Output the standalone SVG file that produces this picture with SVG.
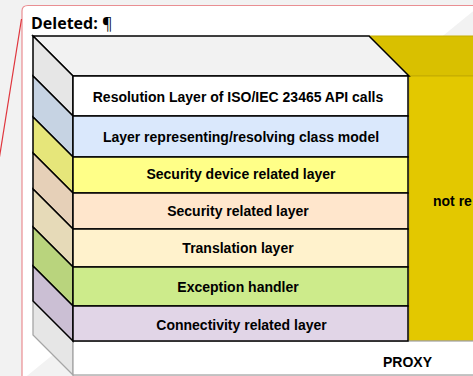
<svg xmlns="http://www.w3.org/2000/svg" width="473" height="376" viewBox="0 0 473 376">
<style>
.t{font-family:"Liberation Sans",Arial,sans-serif;font-weight:bold;font-size:14px;fill:#000;text-anchor:middle}
.k{stroke:#000;stroke-width:1.5;stroke-linejoin:miter}
.g{stroke:#a6a6a6;stroke-width:1.3}
</style>
<rect x="0" y="0" width="473" height="376" fill="#f2f2f2"/>
<g id="comment">
<path d="M22,380 V11 Q22,5.5 28,5.5 H480" fill="#ffffff" stroke="#e98e92" stroke-width="1.2"/>
<text x="31" y="29" font-family="'Open Sans','Liberation Sans',sans-serif" font-weight="bold" font-size="16" fill="#000">Deleted: <tspan font-weight="normal">¶</tspan></text>
</g>
<g id="connectors">
<line x1="21.5" y1="19" x2="-1" y2="160" stroke="#e0343c" stroke-width="1.2"/>
</g>
<g id="yellow-block">
<polygon points="369,36 480,36 480,76 409,76" fill="#d9c000" stroke="#c4ab00" stroke-width="1"/>
<rect x="409" y="76" width="80" height="265" fill="#e3c800" stroke="#c4ab00" stroke-width="1"/>
<text class="t" x="433" y="206" style="text-anchor:start">not re</text>
</g>
<g id="proxy">
<polygon points="33,301 73,341 73,375 33,335" fill="#e6e6e6" class="g"/>
<rect x="73" y="341" width="670" height="34" fill="#ffffff" class="g"/>
<text class="t" x="407.5" y="366.5">PROXY</text>
</g>
<g id="top-face">
<polygon points="33,36 369,36 409,76 73,76" fill="#f2f2f2" class="k"/>
</g>
<g id="resolution-layer">
<polygon points="33,36 73,76 73,116 33,76" fill="#e6e6e6" class="k"/>
<rect x="73" y="76" width="335" height="40" fill="#ffffff" class="k"/>
<text class="t" x="238" y="101.5">Resolution Layer of ISO/IEC 23465 API calls</text>
</g>
<g id="class-model-layer">
<polygon points="33,76 73,116 73,157 33,117" fill="#c6d3e3" class="k"/>
<rect x="73" y="116" width="335" height="41" fill="#dae8fc" class="k"/>
<text class="t" x="241" y="142.3">Layer representing/resolving class model</text>
</g>
<g id="security-device-layer">
<polygon points="33,117 73,157 73,193 33,153" fill="#e6e67a" class="k"/>
<rect x="73" y="157" width="335" height="36" fill="#ffff88" class="k"/>
<text class="t" x="241" y="178.5">Security device related layer</text>
</g>
<g id="security-layer">
<polygon points="33,153 73,193 73,229 33,189" fill="#e6d0b8" class="k"/>
<rect x="73" y="193" width="335" height="36" fill="#ffe6cc" class="k"/>
<text class="t" x="238" y="216">Security related layer</text>
</g>
<g id="translation-layer">
<polygon points="33,189 73,229 73,267 33,227" fill="#e6dab8" class="k"/>
<rect x="73" y="229" width="335" height="38" fill="#fff2cc" class="k"/>
<text class="t" x="238" y="253">Translation layer</text>
</g>
<g id="exception-handler">
<polygon points="33,227 73,267 73,306 33,266" fill="#b9d47d" class="k"/>
<rect x="73" y="267" width="335" height="39" fill="#cdeb8b" class="k"/>
<text class="t" x="238" y="291.5">Exception handler</text>
</g>
<g id="connectivity-layer">
<polygon points="33,266 73,306 73,341 33,301" fill="#cbbfd4" class="k"/>
<rect x="73" y="306" width="335" height="35" fill="#e1d5e7" class="k"/>
<text class="t" x="241.5" y="329.5">Connectivity related layer</text>
</g>
</svg>
